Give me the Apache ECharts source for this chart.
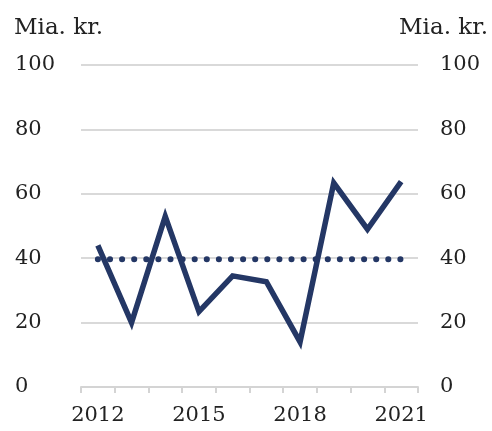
<!DOCTYPE html>
<html>
<head>
<meta charset="utf-8">
<script src="https://cdn.jsdelivr.net/npm/echarts@6/dist/echarts.min.js"></script>
<style>
  html, body { margin: 0; padding: 0; background: #fff; }
  #chart { width: 492px; height: 431px; }
</style>
</head>
<body>
<div id="chart"></div>
<script>
  // data
  var years = ['2012', '2013', '2014', '2015', '2016', '2017', '2018', '2019', '2020', '2021'];
  var values = [44, 20, 53, 23.4, 34.5, 32.7, 14, 63.4, 49, 63.8];
  var average = [39.7, 39.7, 39.7, 39.7, 39.7, 39.7, 39.7, 39.7, 39.7, 39.7];
  var yTicks = { min: 0, max: 100, interval: 20 };

  var navy = '#243765';
  var font = 'DejaVu Serif';

  var myChart = echarts.init(document.getElementById('chart'));
  var labelStyle = { color: '#222', fontFamily: font, fontSize: 21 };

  var option = {
    animation: false,
    grid: { left: 81, right: 74, top: 65, bottom: 44 },
    graphic: [
      { type: 'text', left: 14, top: 17, style: { text: 'Mia. kr.', fill: '#222', font: '23px ' + font } },
      { type: 'text', right: 4, top: 17, style: { text: 'Mia. kr.', fill: '#222', font: '23px ' + font } }
    ],
    xAxis: {
      type: 'category',
      data: years,
      boundaryGap: true,
      axisLine: { lineStyle: { color: '#d4d4d4', width: 2 } },
      axisTick: { show: true, interval: 0, length: 6, lineStyle: { color: '#d4d4d4', width: 2 } },
      axisLabel: Object.assign({ interval: 2, margin: 18 }, labelStyle)
    },
    yAxis: [
      {
        type: 'value', min: yTicks.min, max: yTicks.max, interval: yTicks.interval,
        axisLine: { show: false }, axisTick: { show: false },
        splitLine: { lineStyle: { color: '#d9d9d9', width: 2 } },
        axisLabel: Object.assign({ align: 'left', margin: 66 }, labelStyle)
      },
      {
        type: 'value', min: yTicks.min, max: yTicks.max, interval: yTicks.interval,
        position: 'right',
        axisLine: { show: false }, axisTick: { show: false }, splitLine: { show: false },
        axisLabel: Object.assign({ align: 'left', margin: 22 }, labelStyle)
      }
    ],
    series: [
      {
        type: 'line',
        data: average,
        symbol: 'none',
        lineStyle: { color: navy, width: 6, type: [0.1, 12], cap: 'round' },
        z: 2
      },
      {
        type: 'line',
        data: values,
        symbol: 'none',
        lineStyle: { color: navy, width: 5.5, join: 'miter' },
        z: 3
      }
    ]
  };

  myChart.setOption(option);
</script>
</body>
</html>
